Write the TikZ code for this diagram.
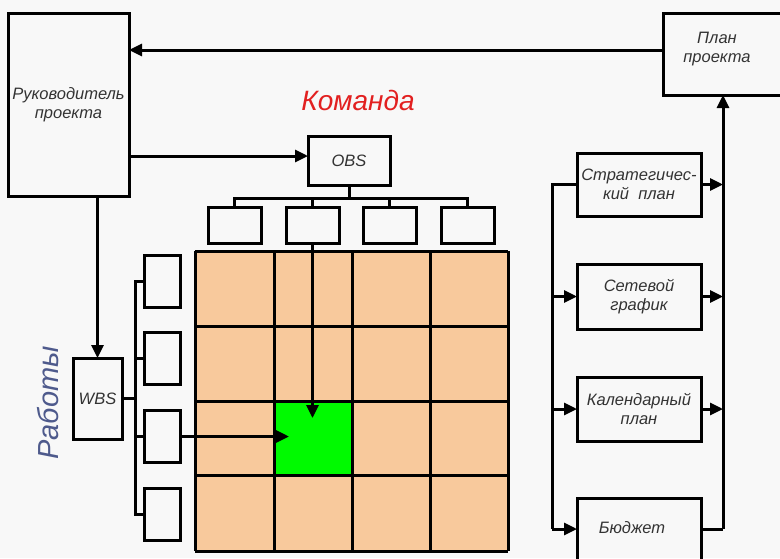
\documentclass[tikz,border=0pt]{standalone}
\usepackage{fontspec}
\setmainfont{Liberation Sans}
\usetikzlibrary{arrows.meta}
\definecolor{peach}{RGB}{248,201,156}
\definecolor{brightgreen}{RGB}{0,250,0}
\definecolor{bgcol}{RGB}{248,248,248}
\definecolor{teamred}{RGB}{226,32,32}
\definecolor{worksblue}{RGB}{78,90,140}
\definecolor{txt}{RGB}{51,51,51}
\begin{document}
\begin{tikzpicture}[x=1pt,y=-1pt,
 box/.style={draw=black, line width=3pt, inner sep=0pt, outer sep=0pt, align=center, text=txt, font=\fontsize{16.5}{19}\selectfont\itshape},
 conn/.style={line width=3pt, draw=black},
 arr/.style={conn, -{Triangle[length=13pt,width=12pt]}},
 gridline/.style={line width=3pt, draw=black},
]
\useasboundingbox (0,0) rectangle (780,558);
\clip (0,0) rectangle (780,558);
\fill[bgcol] (0,0) rectangle (780,558);

% labels
\node[text=teamred, font=\fontsize{28}{30}\selectfont\itshape] (team) at (358,100) {Команда};
\node[text=worksblue, font=\fontsize{29}{30}\selectfont\itshape, rotate=90] (works) at (48,403) {Работы};

% main boxes
\node[box, minimum width=121pt, minimum height=183pt] (ruk) at (68.5,104.5) {Руководитель\\проекта};
\node[box, minimum width=127pt, minimum height=82pt] (plan) at (726.5,54) {};
\node[text=txt, align=center, font=\fontsize{16.5}{19}\selectfont\itshape] (plantext) at (717,49) {План\\проекта};
\node[box, minimum width=82pt, minimum height=49pt] (obs) at (349,160.5) {OBS};
\node[box, minimum width=49pt, minimum height=81pt] (wbs) at (97.5,398.5) {WBS};

% OBS children
\foreach \i/\x in {1/234.5,2/312.5,3/389.5,4/467.5}
  \node[box, minimum width=53pt, minimum height=36pt] (o\i) at (\x,225) {};
% WBS children
\foreach \i/\y in {1/281,2/358.5,3/436.5,4/514}
  \node[box, minimum width=36pt, minimum height=52pt] (w\i) at (162,\y) {};

% matrix
\fill[peach] (195,251) rectangle (508,551);
\node[fill=brightgreen, minimum width=78pt, minimum height=74pt, inner sep=0pt] (cell) at (313,438) {};
\foreach \x in {195,274,352,430,508}
  \draw[gridline] (\x,251) -- (\x,551);
\foreach \y in {251,326,401,475,551}
  \draw[gridline] (195,\y) -- (508,\y);

% right boxes
\node[box, minimum width=124pt, minimum height=63pt] (strat) at (639,184.5) {Стратегичес-\\кий\ \ план};
\node[box, minimum width=124pt, minimum height=65pt] (set) at (639,296.5) {\raisebox{4pt}{\parbox{110pt}{\centering Сетевой\\график}}};
\node[box, minimum width=124pt, minimum height=64pt] (kal) at (639,409) {Календарный\\план};
\node[box, minimum width=124pt, minimum height=102pt, anchor=north] (bud) at (639,498) {};
\node[text=txt, font=\fontsize{16.5}{19}\selectfont\itshape] (budtext) at (632,528) {Бюджет};

% connectors
\coordinate (y50) at (0,50);
\draw[arr] (plan.west |- y50) -- (ruk.east |- y50);
\coordinate (y156) at (0,156);
\draw[arr] (ruk.east |- y156) -- (obs.west |- y156);
\draw[arr] (ruk.south -| wbs.north) -- (wbs.north);

\coordinate (ob) at (349,198);
\draw[conn] (obs.south) -- (ob);
\draw[conn] (o1.north) -- (o1.north |- ob) -- (o4.north |- ob) -- (o4.north);
\draw[conn] (o2.north) -- (o2.north |- ob);
\draw[conn] (o3.north) -- (o3.north |- ob);

\coordinate (wb) at (135,399);
\draw[conn] (wbs.east) -- (wbs.east -| wb);
\draw[conn] (w1.west) -- (w1.west -| wb) -- (w4.west -| wb) -- (w4.west);
\draw[conn] (w2.west) -- (w2.west -| wb);
\draw[conn] (w3.west) -- (w3.west -| wb);

\coordinate (t1) at (312.5,418);
\draw[arr] (o2.south) -- (t1);
\coordinate (t2) at (289,436.5);
\draw[arr] (w3.east) -- (t2);

\coordinate (bl) at (552,529);
\coordinate (br) at (723,529);
\draw[conn] (strat.west) -| (bl);
\draw[arr] (set.west -| bl) -- (set.west);
\draw[arr] (kal.west -| bl) -- (kal.west);
\draw[arr] (bl) -- (bl -| bud.west);
\draw[conn] (bl -| bud.east) -- (br);
\draw[arr] (br) -- (br |- plan.south);
\draw[arr] (strat.east) -- (strat.east -| br);
\draw[arr] (set.east) -- (set.east -| br);
\draw[arr] (kal.east) -- (kal.east -| br);
\end{tikzpicture}
\end{document}
